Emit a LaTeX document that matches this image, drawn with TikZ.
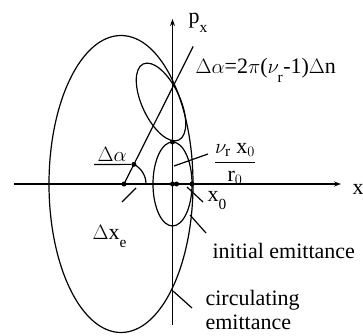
\documentclass[tikz,border=0pt]{standalone}
\usepackage{fontspec}
\setmainfont{Liberation Serif}
\usetikzlibrary{arrows.meta, calc}
\newcommand{\lowsub}[1]{_{\raisebox{-5pt}{$\scriptstyle\mathrm{#1}$}}}

\begin{document}
\begin{tikzpicture}[x=1pt, y=1pt, line width=1.2pt, >={Stealth[length=7pt, width=5pt]},
    dot/.style={circle, fill, inner sep=0pt, minimum size=5pt},
    lbl/.style={inner sep=0pt, font=\fontsize{22}{26}\selectfont}]
    \useasboundingbox (0,0) rectangle (363,335);

    % Axes
    \coordinate (O) at (172.5,151);
    \coordinate (xl) at (14,151);
    \coordinate (xr) at (341,151);
    \coordinate (pb) at (172.5,10);
    \coordinate (pt) at (172.5,316);
    \draw[->] (xl) -- (xr);
    \draw[->] (pb) -- (pt);
    \node[lbl, anchor=west] (xlab) at (352,146) {x};
    \node[lbl, anchor=base west] (plab) at (188,311) {p$\lowsub{x}$};

    % Emittance ellipses
    \def\ea{19.5}
    \def\eb{42}
    \coordinate (E) at (124,151);
    \coordinate (T) at (161,233);
    \draw (121,151) ellipse [x radius=72, y radius=148.5];
    \draw (O) ellipse [x radius=\ea, y radius=\eb];
    \draw[rotate around={25:(T)}] (T) ellipse [x radius=19, y radius=\eb];

    % Rotation angle
    \def\ang{63.3}
    \coordinate (L) at ($(E)+(\ang:154)$);
    \coordinate (A) at ($(E)+(\ang:22)$);
    \draw (E) -- (L);
    \draw (E) ++(22,0) arc (0:\ang:22);

    % Points
    \node[dot] (e) at (E) {};
    \node[dot] (a) at (A) {};
    \node[dot] (o) at (O) {};
    \node[dot] (o2) at ($(O)+(4,0)$) {};
    \node[dot] (x0) at (192,151) {};
    \node[dot] (top) at ($(O)+(0,\eb)$) {};

    % Labels and leaders
    \node[lbl, anchor=base west] (rot) at (195,261) {$\Delta\alpha$=2$\pi$($\nu\lowsub{r}$-1)$\Delta$n};
    \node[lbl, anchor=south west] (da) at (97,173) {$\Delta\alpha$};
    \coordinate (da1) at (94,170.5);
    \draw (da1) -- (a);

    \node[lbl] (frac) at (235,171) {$\displaystyle\frac{\nu_{\mathrm{r}}\;\mathrm{x}_0}{\mathrm{r}_0}$};
    \coordinate (f1) at (174,169);
    \coordinate (f2) at (208,181);
    \draw (f1) -- (f2);

    \node[lbl, anchor=base west] (x0lab) at (207,134) {x$\lowsub{0}$};
    \coordinate (x1) at (187,148);
    \coordinate (x2) at (203,133);
    \draw (x1) -- (x2);

    \node[lbl, anchor=base west] (dxe) at (92,96) {$\Delta$x$\lowsub{e}$};
    \coordinate (d1) at (136,147);
    \coordinate (d2) at (122,133);
    \draw (d1) -- (d2);

    \node[lbl, anchor=base west] (init) at (212,77) {initial emittance};
    \coordinate (i1) at (190,120);
    \coordinate (i2) at (206,102);
    \draw (i1) -- (i2);

    \node[lbl, anchor=base west] (circ) at (205,30) {circulating};
    \node[lbl, anchor=base west] (emit) at (205,6) {emittance};
    \coordinate (c1) at (173,44);
    \coordinate (c2) at (192,27);
    \draw (c1) -- (c2);
\end{tikzpicture}
\end{document}
